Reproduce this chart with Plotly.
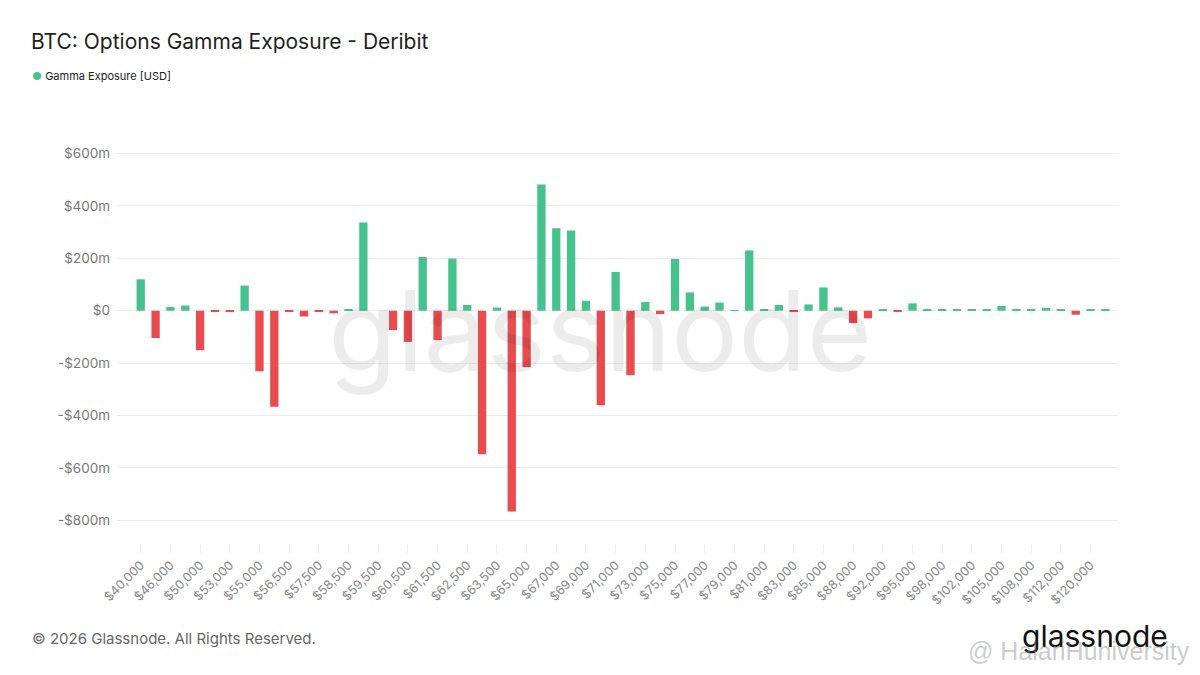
import plotly.graph_objects as go

# strike prices (USD) and gamma exposure (USD millions)
strikes = [
    40000, 45000, 46000, 48000, 50000, 52000, 53000, 54000, 55000, 56000,
    56500, 57000, 57500, 58000, 58500, 59000, 59500, 60000, 60500, 61000,
    61500, 62000, 62500, 63000, 63500, 64000, 65000, 66000, 67000, 68000,
    69000, 70000, 71000, 72000, 73000, 74000, 75000, 76000, 77000, 78000,
    79000, 80000, 81000, 82000, 83000, 84000, 85000, 86000, 88000, 90000,
    92000, 94000, 95000, 96000, 98000, 100000, 102000, 104000, 105000, 106000,
    108000, 110000, 112000, 115000, 120000, 125000,
]
gamma_musd = [
    120, -104, 14, 20, -151, -2, -5, 96, -231, -366,
    -2, -22, -3, -10, 4, 337, 0, -74, -119, 205,
    -112, 199, 22, -548, 12, -766, -215, 482, 315, 306,
    38, -361, 148, -246, 33, -13, 198, 70, 16, 31,
    2, 230, 5, 22, -5, 24, 89, 13, -47, -29,
    3, -3, 28, 6, 3, 6, 5, 3, 18, 3,
    3, 11, 3, -15, 3, 3,
]
y_ticks = [600, 400, 200, 0, -200, -400, -600, -800]
y_tick_text = ["$600m", "$400m", "$200m", "$0", "-$200m", "-$400m", "-$600m", "-$800m"]

GREEN = "#46c28e"
RED = "#e84c4f"
FONT = "Inter"

labels = [f"${s:,}" for s in strikes]
colors = [GREEN if v >= 0 else RED for v in gamma_musd]

# plot area in pixels (used to place the extra texts)
L, T, W, H = 117, 143, 1001, 401.5


def px(x):
    return (x - L) / W


def py(y):
    return (T + H - y) / H


fig = go.Figure()
fig.add_trace(go.Bar(
    x=labels,
    y=gamma_musd,
    marker=dict(color=colors, line=dict(width=0)),
    name="Gamma Exposure [USD]",
    showlegend=False,
))

fig.update_layout(
    width=1200,
    height=675,
    margin=dict(l=L, r=1200 - L - W, t=T, b=675 - T - H),
    paper_bgcolor="white",
    plot_bgcolor="white",
    font=dict(family=FONT, color="#777"),
    bargap=0.44,
    title=dict(
        text="BTC: Options Gamma Exposure - Deribit",
        x=31 / 1200, xanchor="left",
        y=1 - 42 / 675, yanchor="middle",
        font=dict(family=FONT, size=21, color="#1f1f1f"),
    ),
    xaxis=dict(
        type="category",
        categoryorder="array",
        categoryarray=labels,
        tickmode="array",
        tickvals=labels[::2],
        tickangle=-45,
        tickfont=dict(size=12.5, color="#888"),
        ticks="outside",
        ticklen=8,
        tickcolor="#ececec",
        showgrid=False,
        showline=False,
        zeroline=False,
        range=[-1.6, 65.85],
        fixedrange=True,
    ),
    yaxis=dict(
        range=[-890, 640],
        tickmode="array",
        tickvals=y_ticks,
        ticktext=y_tick_text,
        tickfont=dict(size=13.5, color="#777"),
        showgrid=True,
        gridcolor="#eeeeee",
        gridwidth=1,
        zeroline=True,
        zerolinecolor="#eeeeee",
        zerolinewidth=1,
        ticks="",
        ticklabelstandoff=6,
    ),
)

annotations = [
    # legend
    dict(
        text=f"<span style='color:{GREEN}'>●</span> Gamma Exposure [USD]",
        x=px(30), y=py(76), xanchor="left", yanchor="middle",
        font=dict(size=11, color="#222"),
    ),
    # watermark in the chart
    dict(
        text="glassnode",
        x=px(600), y=py(330), xanchor="center", yanchor="middle",
        font=dict(size=112, color="rgba(0,0,0,0.075)"),
    ),
    # footer
    dict(
        text="© 2026 Glassnode. All Rights Reserved.",
        x=px(30), y=py(639), xanchor="left", yanchor="middle",
        font=dict(size=15, color="#666"),
    ),
    dict(
        text="glassnode",
        x=px(1170), y=py(637), xanchor="right", yanchor="middle",
        font=dict(size=30, color="#111"),
    ),
    dict(
        text="@ HalariHuniversity",
        x=px(1192), y=py(652), xanchor="right", yanchor="middle",
        font=dict(family="Liberation Sans", size=25, color="rgba(140,140,140,0.45)"),
    ),
]
for a in annotations:
    a.update(xref="paper", yref="paper", showarrow=False)
fig.update_layout(annotations=annotations)

# drop the browser's default page margin so the figure sits at (0, 0)
fig.write_html(
    "out.html",
    config={"displayModeBar": False},
    post_script="document.body.style.margin='0';",
)
